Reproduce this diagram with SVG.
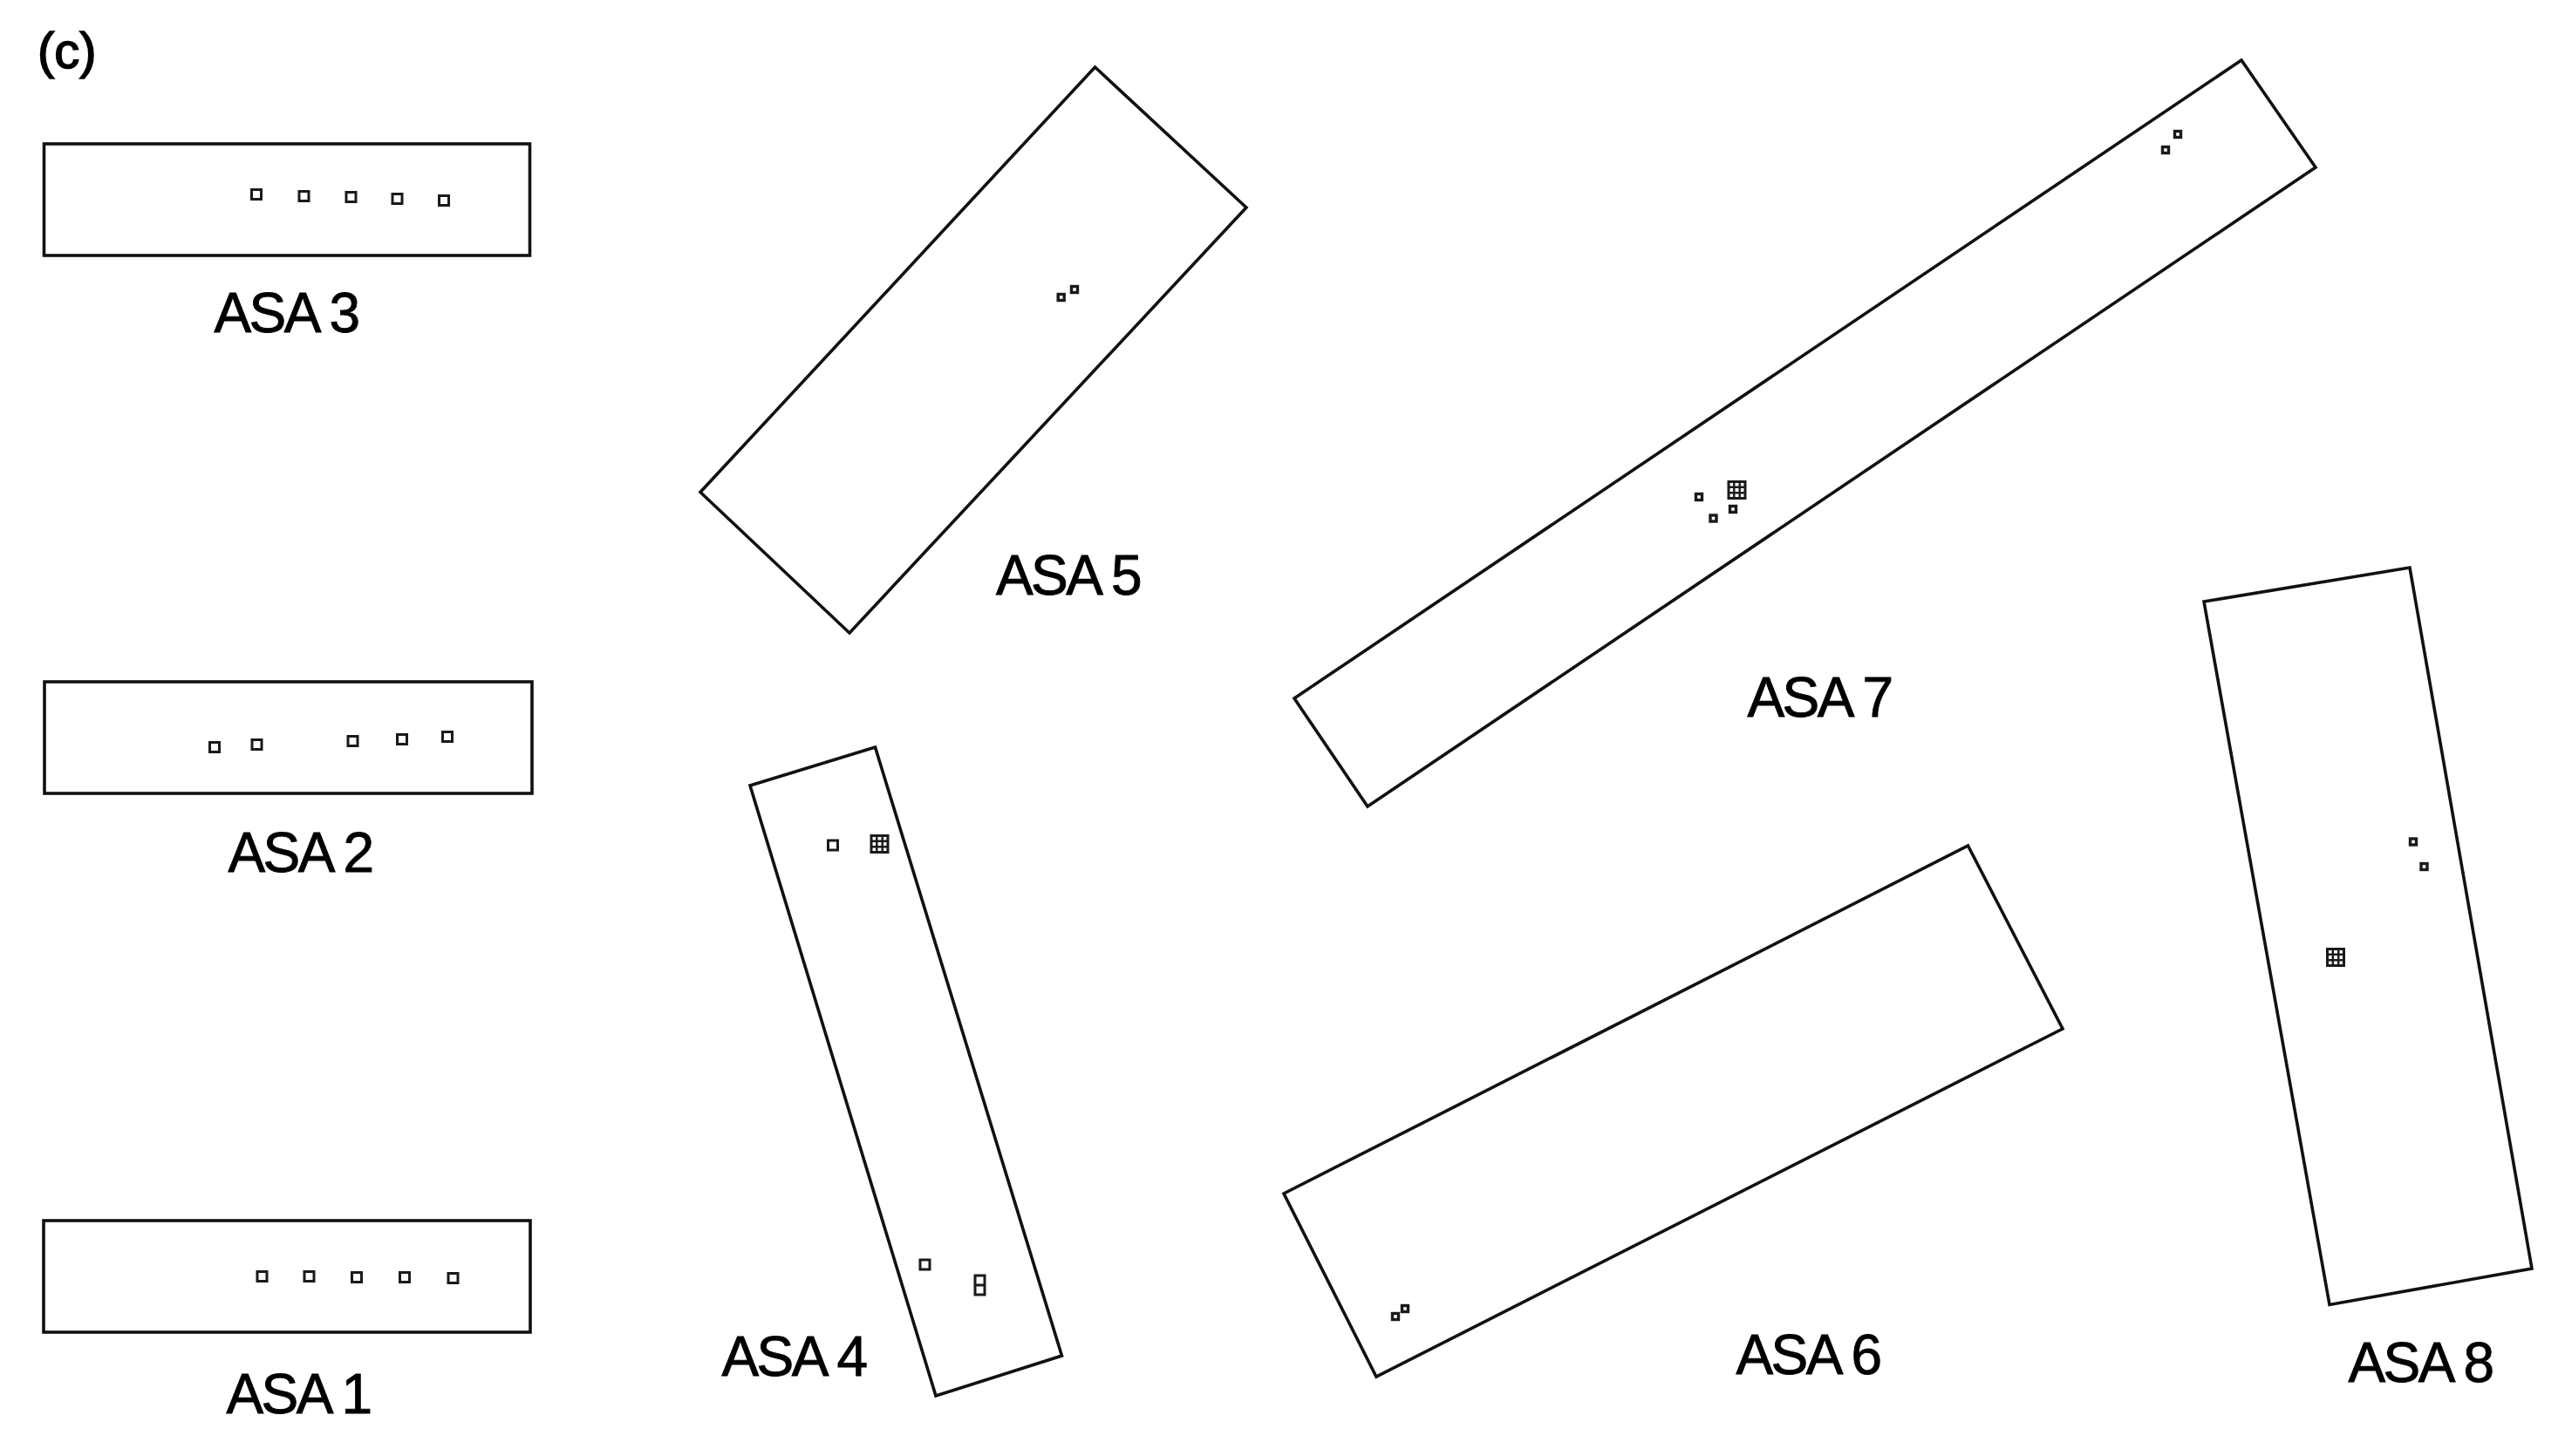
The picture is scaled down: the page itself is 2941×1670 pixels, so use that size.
<svg xmlns="http://www.w3.org/2000/svg" width="2941" height="1670" viewBox="0 0 2941 1670">
<style>
.b{fill:none;stroke:#111;stroke-width:3.6}
.m{fill:none;stroke:#1a1a1a;stroke-width:3}
.l{font-family:"Liberation Sans",Arial,sans-serif;font-size:64px;letter-spacing:-2.6px;fill:#000;stroke:#000;stroke-width:.9;text-anchor:middle}
</style>
<defs>
<rect id="s" class="m" x="-5.5" y="-5.5" width="11" height="11"/>
<rect id="t" class="m" x="-3.5" y="-3.5" width="7" height="7" style="stroke-width:3.4"/>
<g id="g"><rect class="m" x="-9.5" y="-9.5" width="19" height="19"/><path class="m" style="stroke-width:2.4" d="M-3.2-9.5V9.5M3.2-9.5V9.5M-9.5-3.2H9.5M-9.5,3.2H9.5"/></g>
</defs>
<rect width="2941" height="1670" fill="#fff"/>
<text id="panel" x="43" y="78" font-family="Liberation Sans,Arial,sans-serif" font-size="58" fill="#000" stroke="#000" stroke-width="1.6">(c)</text>
<g id="asa3"><rect class="b" x="50.5" y="165" width="557" height="128"/>
<use href="#s" x="294" y="223"/><use href="#s" x="348.5" y="225"/><use href="#s" x="402.5" y="226"/><use href="#s" x="455.5" y="228"/><use href="#s" x="509" y="230"/>
<text class="l" x="328" y="381">ASA 3</text></g>
<g id="asa2"><rect class="b" x="51" y="782" width="559" height="128"/>
<use href="#s" x="246" y="857"/><use href="#s" x="294.5" y="854"/><use href="#s" x="404.5" y="850"/><use href="#s" x="461" y="848"/><use href="#s" x="513" y="845"/>
<text class="l" x="344" y="1000">ASA 2</text></g>
<g id="asa1"><rect class="b" x="50" y="1400" width="558" height="128"/>
<use href="#s" x="300.5" y="1464"/><use href="#s" x="354.5" y="1464"/><use href="#s" x="409" y="1465"/><use href="#s" x="464" y="1465"/><use href="#s" x="519.5" y="1466"/>
<text class="l" x="342" y="1621">ASA 1</text></g>
<g id="asa5"><polygon class="b" points="1255.5,77 1429,238 974,726 803,564.5"/>
<use href="#t" x="1216.7" y="341"/><use href="#t" x="1232" y="332"/>
<text class="l" x="1224.5" y="682">ASA 5</text></g>
<g id="asa7"><polygon class="b" points="2570,69 2655,192 1568,925 1484,801"/>
<use href="#t" x="2497" y="154"/><use href="#t" x="2483" y="172"/>
<use href="#g" x="1991.5" y="562"/><use href="#t" x="1948" y="570"/><use href="#t" x="1964.5" y="594.5"/><use href="#t" x="1987" y="584"/>
<text class="l" x="2086" y="822">ASA 7</text></g>
<g id="asa4"><polygon class="b" points="860,901 1003.5,857 1217.5,1555 1073,1601"/>
<use href="#s" x="955" y="969.5"/><use href="#g" x="1008.5" y="968"/><use href="#s" x="1060.5" y="1450.5"/>
<rect class="m" x="1118" y="1463" width="11" height="22"/><path class="m" d="M1118,1474H1129"/>
<text class="l" x="910" y="1578">ASA 4</text></g>
<g id="asa6"><polygon class="b" points="2256.5,970 2365,1180 1578,1579 1472,1369"/>
<use href="#t" x="1600" y="1510"/><use href="#t" x="1611" y="1501"/>
<text class="l" x="2073" y="1576">ASA 6</text></g>
<g id="asa8"><polygon class="b" points="2527,690 2763,651 2903,1455 2671,1496.5"/>
<use href="#t" x="2767" y="965.5"/><use href="#t" x="2779.5" y="994"/><use href="#g" x="2678" y="1098"/>
<text class="l" x="2775" y="1585">ASA 8</text></g>
</svg>
